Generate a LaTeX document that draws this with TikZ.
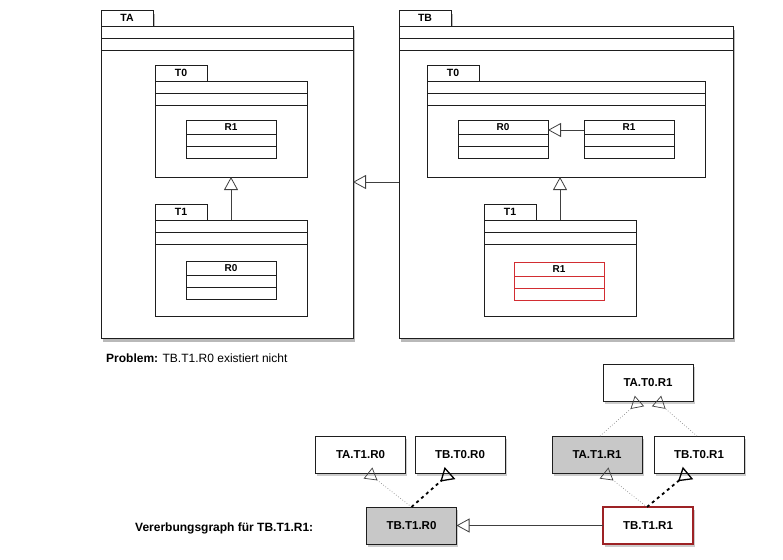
\documentclass[tikz,border=0pt]{standalone}
\usepackage{fontspec}
\setmainfont{Liberation Sans}
\usetikzlibrary{arrows.meta, shadows, positioning}
\definecolor{boxgray}{RGB}{200,200,200}
\definecolor{errred}{RGB}{210,45,50}
\definecolor{inkline}{RGB}{30,30,30}
\tikzset{
  pkgtab/.style={draw=inkline, fill=white, line width=0.8pt, outer sep=0pt, inner sep=0pt,
    minimum width=52pt, minimum height=16pt, font=\bfseries\fontsize{10.5}{12}\selectfont},
  pkgbody/.style={draw=inkline, fill=white, line width=0.8pt, outer sep=0pt, inner sep=0pt},
  pkgshadow/.style={drop shadow={shadow xshift=2pt, shadow yshift=-4pt, opacity=0.55}},
  classbox/.style={draw=inkline, fill=white, line width=0.8pt, outer sep=0pt, inner sep=0pt,
    minimum height=38pt},
  classname/.style={inner sep=0pt, font=\bfseries\fontsize{10}{11}\selectfont},
  graphbox/.style={draw=inkline, fill=white, line width=0.7pt, outer sep=0pt,
    minimum width=90pt, minimum height=37pt, font=\bfseries\fontsize{11.5}{13}\selectfont,
    drop shadow={shadow xshift=1.5pt, shadow yshift=-2.5pt, opacity=0.4}},
  errbox/.style={draw=errred!75!black, line width=1.1pt},
  inherit/.style={draw=black!75, line width=0.8pt,
    -{Triangle[open, length=13pt, width=14pt, fill=white]}},
  weakedge/.style={draw=black!45, line width=0.7pt, dotted,
    -{Triangle[open, reversed, length=12pt, width=14pt, color=black!75, line width=0.7pt]}},
  strongedge/.style={draw=black, line width=1.8pt, dash pattern=on 3pt off 3.5pt,
    -{Triangle[open, reversed, length=13pt, width=16pt, line width=1.3pt]}},
}
% package: [options]{name}{label}{x}{y}{width}{height}
\newcommand{\umlpkg}[7][]{%
  \node[pkgtab, #1, anchor=north west] (#2tab) at (#4,#5) {#3};
  \node[pkgbody, #1, anchor=north west, minimum width=#6pt, minimum height=#7pt] (#2) at (#2tab.south west) {};
  \draw[line width=0.8pt, inkline] ([yshift=-12pt]#2.north west) -- ([yshift=-12pt]#2.north east);
  \draw[line width=0.8pt, inkline] ([yshift=-24pt]#2.north west) -- ([yshift=-24pt]#2.north east);
}
% class: [options]{name}{label}{x}{y}{width}
\newcommand{\umlclass}[6][]{%
  \node[classbox, #1, anchor=north west, minimum width=#6pt] (#2) at (#4,#5) {};
  \node[classname] (#2lbl) at ([yshift=-7.5pt]#2.north) {#3};
  \draw[line width=0.8pt, inkline, #1] ([yshift=-14pt]#2.north west) -- ([yshift=-14pt]#2.north east);
  \draw[line width=0.8pt, inkline, #1] ([yshift=-26pt]#2.north west) -- ([yshift=-26pt]#2.north east);
}

\begin{document}
\begin{tikzpicture}[x=1pt, y=-1pt]
  \useasboundingbox (0,0) rectangle (783,559);

  % packages TA and TB
  \umlpkg[pkgshadow]{ta}{TA}{101}{10}{252}{312}
  \umlpkg[pkgshadow]{tb}{TB}{399}{10}{334}{312}

  % inside TA
  \umlpkg{taz}{T0}{155}{65}{152}{96}
  \umlclass{tazr}{R1}{186}{120}{90}
  \umlpkg{tae}{T1}{155}{204}{152}{96}
  \umlclass{taer}{R0}{186}{261}{90}
  \draw[inherit] (tae.north) -- (taz.south);

  % inside TB
  \umlpkg{tbz}{T0}{427}{65}{278}{96}
  \umlclass{tbzr0}{R0}{458}{120}{90}
  \umlclass{tbzr1}{R1}{584}{120}{90}
  \draw[inherit] ([yshift=-10pt]tbzr1.north west) -- ([yshift=-10pt]tbzr0.north east);
  \umlpkg{tbe}{T1}{484}{204}{152}{96}
  \umlclass[draw=errred]{tber}{R1}{514}{262}{90}
  \draw[inherit] (tbe.north) -- (tbe.north |- tbz.south);

  \draw[inherit] (tb.west) -- (ta.east);

  \node[anchor=west, inner sep=0pt, font=\fontsize{12}{14}\selectfont] (problem) at (106,358)
    {\textbf{Problem:} TB.T1.R0 existiert nicht};

  % Vererbungsgraph
  \node[graphbox] (tat0r1) at (648,382.5) {TA.T0.R1};
  \node[graphbox] (tat1r0) at (360.5,454.5) {TA.T1.R0};
  \node[graphbox] (tbt0r0) at (460,454.5) {TB.T0.R0};
  \node[graphbox, fill=boxgray] (tat1r1) at (597,454.5) {TA.T1.R1};
  \node[graphbox] (tbt0r1) at (699,454.5) {TB.T0.R1};
  \node[graphbox, fill=boxgray] (tbt1r0) at (411.5,525.5) {TB.T1.R0};
  \node[graphbox, errbox] (tbt1r1) at (648,525.5) {TB.T1.R1};

  \node[anchor=west, inner sep=0pt, font=\bfseries\fontsize{12}{14}\selectfont] (graphlbl) at (135,528)
    {Vererbungsgraph für TB.T1.R1:};

  \draw[inherit] (tbt1r1) -- (tbt1r0);
  \draw[weakedge] (tbt1r0.north) -- ([xshift=7.5pt]tat1r0.south);
  \draw[strongedge] (tbt1r0.north) -- ([xshift=-10pt]tbt0r0.south);
  \draw[weakedge] ([xshift=-1pt]tbt1r1.north) -- ([xshift=7pt]tat1r1.south);
  \draw[strongedge] ([xshift=-1pt]tbt1r1.north) -- ([xshift=-11pt]tbt0r1.south);
  \draw[weakedge] ([xshift=3pt]tat1r1.north) -- ([xshift=-8.5pt]tat0r1.south);
  \draw[weakedge] ([xshift=-2pt]tbt0r1.north) -- ([xshift=8.5pt]tat0r1.south);
\end{tikzpicture}
\end{document}
